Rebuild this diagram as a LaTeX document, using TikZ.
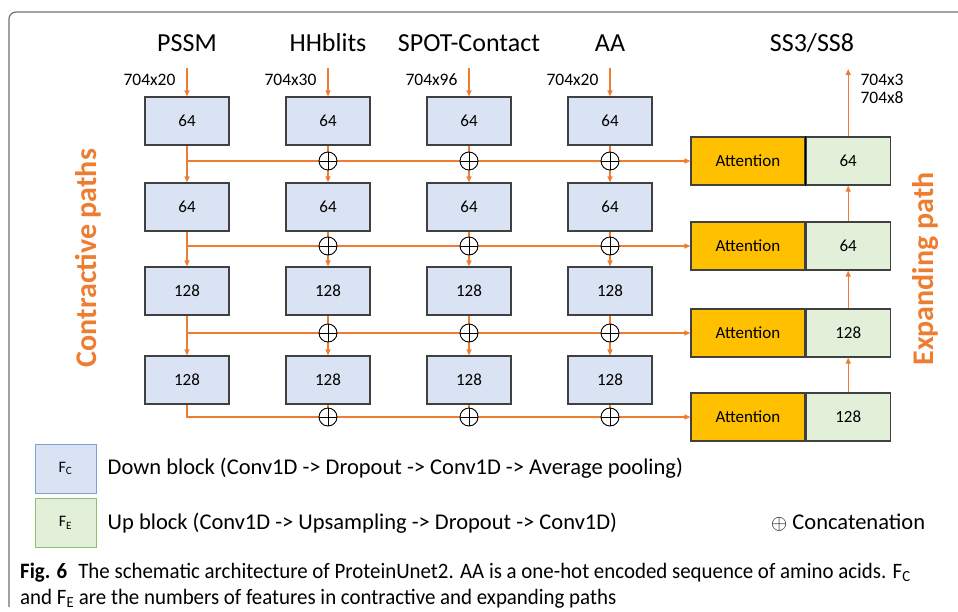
\documentclass[tikz,border=0pt]{standalone}
\usepackage{fontspec}
\setmainfont{Carlito}
\newfontfamily\capfont[FakeStretch=0.95]{Carlito}
\usepackage{tikz}
\usepackage{xcolor}
\usetikzlibrary{arrows.meta}
\usetikzlibrary{positioning}
\usetikzlibrary{backgrounds}
\definecolor{Flow Orange}{HTML}{ED7D31}
\definecolor{Down Blue}{HTML}{DAE3F3}
\definecolor{Up Green}{HTML}{E2F0D9}
\definecolor{Attn Gold}{HTML}{FFC000}
\definecolor{Box Gray}{HTML}{404040}
\definecolor{Key Blue}{HTML}{7F9FD8}
\definecolor{Key Green}{HTML}{8CC46C}
\definecolor{Frame Gray}{HTML}{707070}

\begin{document}
\begin{tikzpicture}[x=1pt, y=-1pt,
    flow/.style={draw=Flow Orange, line width=1.2pt},
    flowarrow/.style={flow, -{Triangle[length=6pt, width=5pt]}},
    block/.style={draw=Box Gray, line width=1.2pt, minimum height=48pt,
        inner sep=0pt, font=\fontsize{17}{20}\selectfont},
    downbox/.style={block, fill=Down Blue, minimum width=84pt},
    upbox/.style={block, fill=Up Green, minimum width=84pt},
    attbox/.style={block, fill=Attn Gold, minimum width=114pt},
    catnode/.style={circle, draw=black, fill=white, line width=0.9pt,
        minimum size=18pt, inner sep=0pt,
        path picture={\draw[black, line width=0.9pt]
            (path picture bounding box.north) -- (path picture bounding box.south)
            (path picture bounding box.west) -- (path picture bounding box.east);}},
    keybox/.style={draw, line width=1pt, minimum width=61pt, minimum height=49pt,
        inner sep=0pt, font=\fontsize{16}{18}\selectfont},
    keytext/.style={anchor=west, inner sep=0pt, font=\fontsize{22.5}{26}\selectfont},
    captext/.style={anchor=base west, inner sep=0pt, font=\capfont\fontsize{22}{26}\selectfont},
    pathlabel/.style={rotate=90, text=Flow Orange, font=\fontsize{30}{34}\selectfont\bfseries}
]
    \useasboundingbox (0,0) rectangle (958,611);
    % Frame
    \draw[Frame Gray, line width=1.2pt, rounded corners=7pt] (9,607) -- (9,12) -- (958,12);

    % Expanding path: attention and up blocks
    \foreach \f/\liney [count=\r] in {64/161, 64/246, 128/333, 128/417} {
        \node[attbox] (att\r) at (748,\liney) {Attention};
        \node[upbox, right=0pt of att\r] (up\r) {\f};
    }
    \draw[line width=1.4pt] (att1.north east) -- (att1.south east);

    % Contractive paths: one column per input
    \foreach \name/\dim [count=\c] in {PSSM/704x20, HHblits/704x30, SPOT-Contact/704x96, AA/704x20} {
        \pgfmathsetmacro\colx{187+141*(\c-1)}
        \node[font=\fontsize{26}{30}\selectfont] (title\c) at (\colx,43) {\name};
        \node[anchor=east, font=\fontsize{17.5}{20}\selectfont] (dim\c) at (\colx-8,80) {\dim};
        \coordinate (in\c) at (\colx,68);
        \foreach \rowy/\f [count=\r] in {121/64, 207/64, 291/128, 380/128} {
            \node[downbox] (d\c\r) at (\colx,\rowy) {\f};
        }
        \draw[flowarrow] (in\c) -- (d\c1.north);
    }

    % Concatenation points
    \foreach \c in {2,3,4} {
        \foreach \r in {1,...,4} {
            \node[catnode] (cat\c\r) at (d\c\r.south |- att\r.west) {};
        }
    }

    \begin{scope}[on background layer]
        % Down the columns
        \foreach \c in {1,...,4} {
            \foreach \r [evaluate=\r as \nr using int(\r+1)] in {1,2,3} {
                \draw[flowarrow] (d\c\r) -- (d\c\nr);
            }
        }
        \foreach \c in {2,3,4} {
            \draw[flow] (d\c4.south) -- (cat\c4.center);
        }
        % Skip connections into the attention blocks
        \foreach \r in {1,2,3} {
            \draw[flowarrow] (d1\r.south |- att\r.west) -- (att\r.west);
        }
        \draw[flowarrow] (d14.south) |- (att4.west);
    \end{scope}

    % Up the expanding path
    \foreach \r [evaluate=\r as \pr using int(\r-1)] in {4,3,2} {
        \draw[flowarrow] (up\r) -- (up\pr);
    }
    \coordinate (out) at (up1.north |- 0,69);
    \draw[flowarrow] (up1) -- (out);
    \node[font=\fontsize{26}{30}\selectfont] (outtitle) at (812,43) {SS3/SS8};
    \node[anchor=west, align=left, font=\fontsize{17.5}{18}\selectfont] (outdim) at (857,89) {704x3\\704x8};

    % Path labels
    \node[pathlabel] (contract) at (88,258) {Contractive paths};
    \node[pathlabel] (expand) at (926,269) {Expanding path};

    % Legend
    \node[keybox, draw=Key Blue, fill=Down Blue] (keyc) at (65.5,468.5) {F\textsubscript{C}};
    \node[keybox, draw=Key Green, fill=Up Green] (keye) at (65.5,523) {F\textsubscript{E}};
    \node[keytext, right=11pt of keyc] (downtext)
        {Down block (Conv1D -> Dropout -> Conv1D -> Average pooling)};
    \node[keytext, right=11pt of keye] (uptext)
        {Up block (Conv1D -> Upsampling -> Dropout -> Conv1D)};
    \node[keytext] (cattext) at (771,523) {$\oplus$ Concatenation};

    % Caption
    \node[captext] (caption1) at (20,578)
        {\textbf{Fig. 6}\enspace The schematic architecture of ProteinUnet2. AA is a one-hot encoded sequence of amino acids. F\textsubscript{C}};
    \node[captext] (caption2) at (20,604)
        {and F\textsubscript{E} are the numbers of features in contractive and expanding paths};
\end{tikzpicture}
\end{document}
